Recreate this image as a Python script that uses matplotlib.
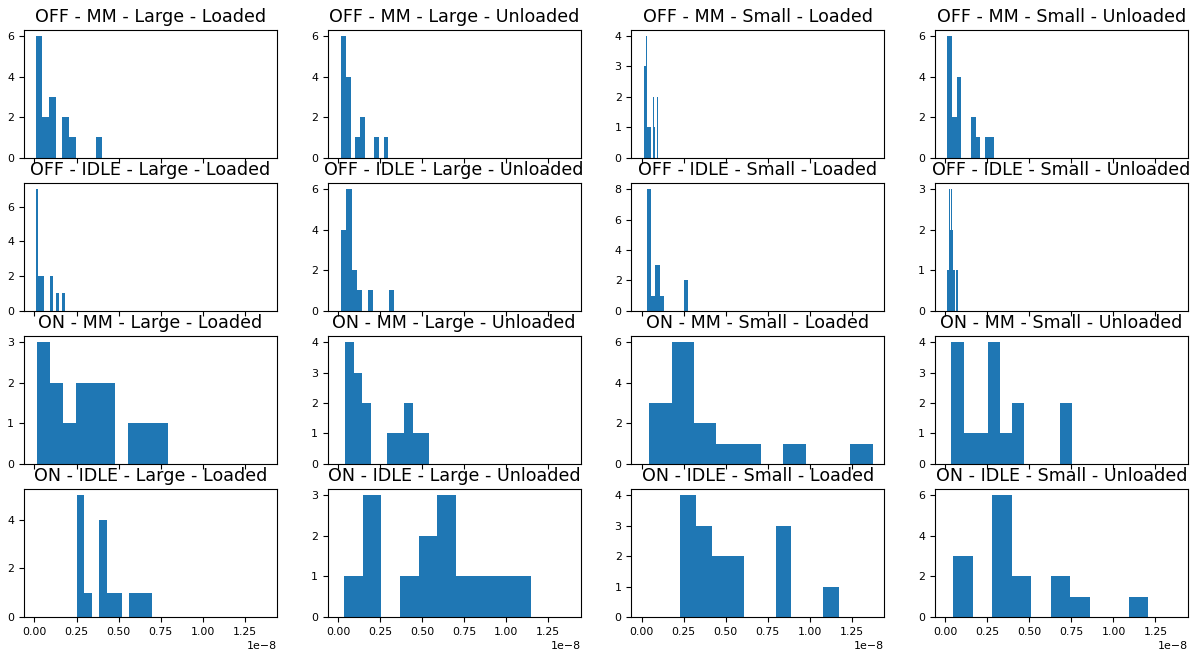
import numpy as np
import matplotlib
matplotlib.use("Agg")
import matplotlib.pyplot as plt

# panel titles, row by row
TITLES = [
    "OFF - MM - Large - Loaded", "OFF - MM - Large - Unloaded",
    "OFF - MM - Small - Loaded", "OFF - MM - Small - Unloaded",
    "OFF - IDLE - Large - Loaded", "OFF - IDLE - Large - Unloaded",
    "OFF - IDLE - Small - Loaded", "OFF - IDLE - Small - Unloaded",
    "ON - MM - Large - Loaded", "ON - MM - Large - Unloaded",
    "ON - MM - Small - Loaded", "ON - MM - Small - Unloaded",
    "ON - IDLE - Large - Loaded", "ON - IDLE - Large - Unloaded",
    "ON - IDLE - Small - Loaded", "ON - IDLE - Small - Unloaded",
]

# range of each sample (units of 1e-8)
LOW = [0.007, 0.018, 0.015, 0.011,
       0.006, 0.018, 0.032, 0.008,
       0.014, 0.043, 0.045, 0.036,
       0.253, 0.036, 0.227, 0.045]
HIGH = [0.404, 0.299, 0.098, 0.291,
        0.180, 0.333, 0.277, 0.072,
        0.792, 0.543, 1.375, 0.755,
        0.698, 1.145, 1.175, 1.207]

# counts in the 10 bins of each histogram
COUNTS = [
    [6, 2, 3, 0, 2, 1, 0, 0, 0, 1],
    [6, 4, 0, 1, 2, 0, 0, 1, 0, 1],
    [3, 4, 1, 1, 1, 0, 2, 1, 0, 2],
    [6, 2, 4, 0, 0, 2, 1, 0, 1, 1],
    [7, 2, 2, 0, 0, 2, 0, 1, 0, 1],
    [4, 6, 2, 1, 0, 1, 0, 0, 0, 1],
    [8, 1, 3, 1, 0, 0, 0, 0, 0, 2],
    [1, 1, 3, 2, 3, 2, 1, 1, 0, 1],
    [3, 2, 1, 2, 2, 2, 0, 1, 1, 1],
    [4, 3, 2, 0, 0, 1, 1, 2, 1, 1],
    [3, 6, 2, 1, 1, 0, 1, 0, 0, 1],
    [4, 1, 1, 4, 1, 2, 0, 0, 0, 2],
    [5, 1, 0, 4, 1, 1, 0, 1, 1, 1],
    [1, 3, 0, 1, 2, 3, 1, 1, 1, 1],
    [4, 3, 2, 2, 0, 0, 3, 0, 0, 1],
    [3, 0, 6, 2, 0, 2, 1, 0, 0, 1],
]
UNIT = 1e-8

W, H = 1191, 649
fig = plt.figure(figsize=(W / 100, H / 100), dpi=100)
axes = fig.subplots(4, 4, sharex=True)
fig.subplots_adjust(left=24 / W, right=1188 / W, bottom=1 - 617 / H,
                    top=1 - 30 / H, wspace=0.2, hspace=0.2)

for ax, title, lo, hi, counts in zip(axes.flat, TITLES, LOW, HIGH, COUNTS):
    edges = np.linspace(lo, hi, len(counts) + 1) * UNIT
    centers = (edges[:-1] + edges[1:]) / 2
    ax.hist(centers, bins=edges, weights=counts, color="#1f77b4")
    ax.set_title(title, fontsize=12.6)
    ax.tick_params(labelsize=7.9)

for ax in axes[-1]:
    ax.xaxis.get_offset_text().set_fontsize(7.9)

fig.savefig("out.png", dpi=100)
